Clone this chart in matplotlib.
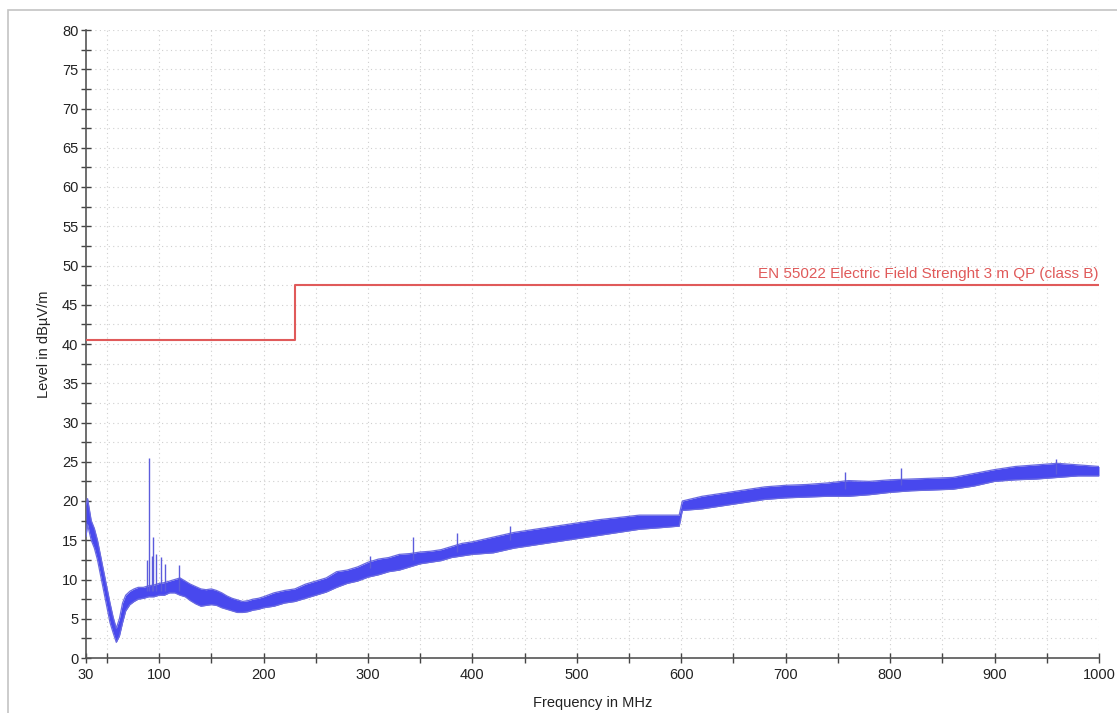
import matplotlib
matplotlib.use("Agg")
import matplotlib.pyplot as plt
from matplotlib.patches import Rectangle
from matplotlib.ticker import MultipleLocator, FixedLocator

plt.rcParams['font.family'] = ['Liberation Sans', 'DejaVu Sans']

# ---- data ----
freq = [30, 31.5, 35, 38, 41, 44, 47, 50, 53, 56, 59, 62, 65, 68, 72, 76, 80, 85, 90, 95,
        100, 105, 110, 115, 120, 125, 130, 135, 140, 145, 150, 155, 160, 165, 170, 175,
        180, 185, 190, 195, 200, 210, 220, 230, 240, 250, 260, 270, 280, 290, 300, 310,
        320, 330, 340, 350, 360, 370, 380, 390, 400, 420, 440, 460, 480, 500, 520, 540,
        560, 580, 598, 601, 620, 640, 660, 680, 700, 720, 740, 760, 780, 800, 820, 840,
        860, 880, 900, 920, 940, 960, 980, 1000]
level_low = [15.5, 17.0, 15.0, 14.0, 12.5, 10.5, 8.5, 6.5, 4.5, 3.2, 2.0, 2.8, 4.5, 6.0, 6.8,
             7.2, 7.5, 7.6, 7.8, 7.8, 8.0, 8.0, 8.3, 8.3, 8.0, 7.8, 7.3, 6.9, 6.6, 6.7, 6.8,
             6.7, 6.4, 6.2, 6.0, 5.8, 5.8, 5.9, 6.1, 6.2, 6.4, 6.6, 7.0, 7.2, 7.6, 8.0, 8.4,
             9.0, 9.5, 9.8, 10.3, 10.6, 11.0, 11.2, 11.6, 12.0, 12.2, 12.4, 12.8, 13.0, 13.2,
             13.4, 14.0, 14.4, 14.8, 15.2, 15.6, 16.0, 16.4, 16.6, 16.8, 18.8, 19.0, 19.4,
             19.8, 20.2, 20.4, 20.5, 20.6, 20.6, 20.8, 21.1, 21.3, 21.4, 21.5, 21.9, 22.5,
             22.7, 22.8, 23.0, 23.2, 23.2]
level_high = [19.5, 20.3, 17.5, 16.5, 15.0, 13.0, 11.0, 9.0, 7.0, 5.2, 3.8, 5.0, 7.0, 8.0, 8.5,
              8.8, 9.0, 9.0, 9.2, 9.3, 9.5, 9.6, 9.8, 10.0, 10.2, 9.8, 9.4, 9.1, 8.8, 8.7, 8.8,
              8.6, 8.3, 7.9, 7.6, 7.4, 7.2, 7.3, 7.5, 7.6, 7.8, 8.3, 8.6, 8.8, 9.4, 9.8, 10.2,
              11.0, 11.2, 11.6, 12.2, 12.6, 12.8, 13.2, 13.3, 13.5, 13.6, 13.8, 14.2, 14.6,
              14.8, 15.4, 16.0, 16.4, 16.8, 17.2, 17.6, 17.9, 18.2, 18.2, 18.2, 20.0, 20.6,
              21.0, 21.4, 21.8, 22.0, 22.1, 22.3, 22.6, 22.5, 22.7, 22.8, 22.9, 23.0, 23.5,
              24.0, 24.4, 24.6, 24.8, 24.6, 24.4]
spike_freq = [88.5, 90.5, 93, 94.5, 97.5, 101.5, 106, 119.5, 302, 343, 385, 436, 757, 810, 959]
spike_level = [12.5, 25.5, 13.0, 15.4, 13.2, 12.9, 12.0, 11.8, 13.0, 15.4, 15.9, 16.8, 23.7, 24.2, 25.3]
spike_base = [8.5, 8.5, 8.5, 8.5, 8.5, 8.5, 8.5, 8.5, 11.5, 12.5, 13.5, 15.0, 21.5, 22.0, 23.5]

limit_freq = [30, 230, 230, 1000]
limit_level = [40.5, 40.5, 47.5, 47.5]
limit_name = "EN 55022 Electric Field Strenght 3 m QP (class B)"

x_ticks = [30, 100, 200, 300, 400, 500, 600, 700, 800, 900, 1000]
x_minor = [50, 150, 250, 350, 450, 550, 650, 750, 850, 950]

# ---- figure ----
fig = plt.figure(figsize=(11.17, 7.13), dpi=100)
fig.patch.set_facecolor('white')
fig.patches.append(Rectangle((8/1117, -0.1), 1.2, 1 - 10/713 + 0.1, transform=fig.transFigure,
                             fill=False, edgecolor='#c4c4c4', linewidth=1.2))
ax = fig.add_axes([86/1117, 1 - 658/713, (1099 - 86)/1117, (658 - 30)/713])

blue = '#4848ee'
ax.fill_between(freq, level_low, level_high, color=blue, linewidth=0.0, zorder=3)
ax.plot(freq, level_high, color='#6a6ae0', linewidth=0.9, zorder=3)
ax.plot(freq, level_low, color='#6a6ae0', linewidth=0.9, zorder=3)
ax.vlines(spike_freq, spike_base, spike_level, color='#5c5cdc', linewidth=1.0, zorder=3)

red = '#e05a5a'
ax.plot(limit_freq, limit_level, color=red, linewidth=1.5, zorder=4)
ax.text(1000, limit_level[-1] + 0.5, limit_name, color=red, fontsize=11,
        ha='right', va='bottom', zorder=5)

ax.set_xlim(30, 1000)
ax.set_ylim(0, 80)
ax.xaxis.set_major_locator(FixedLocator(x_ticks))
ax.xaxis.set_minor_locator(FixedLocator(x_minor))
ax.yaxis.set_major_locator(MultipleLocator(5))
ax.yaxis.set_minor_locator(MultipleLocator(2.5))

grid_kw = dict(color='#cfcfcf', linewidth=0.8, linestyle=(0, (1, 3)))
for gx in sorted(set(x_ticks[1:] + x_minor)):
    ax.axvline(gx, zorder=0, **grid_kw)
for gy in [i * 2.5 for i in range(1, 33)]:
    ax.axhline(gy, zorder=0, **grid_kw)

for s in ['top', 'right']:
    ax.spines[s].set_visible(False)
for s in ['left', 'bottom']:
    ax.spines[s].set_color('#555555')
    ax.spines[s].set_linewidth(1.2)

ax.tick_params(which='both', direction='inout', length=7, width=1, color='#444444',
               labelsize=10.5, labelcolor='#222222')
ax.tick_params(axis='x', pad=4)
ax.tick_params(axis='y', pad=2)

ax.set_xlabel('Frequency in MHz', fontsize=10.5, color='#222222', labelpad=10)
ax.set_ylabel('Level in dBµV/m', fontsize=10.5, color='#222222', labelpad=8)

fig.savefig('out.png', dpi=100)
